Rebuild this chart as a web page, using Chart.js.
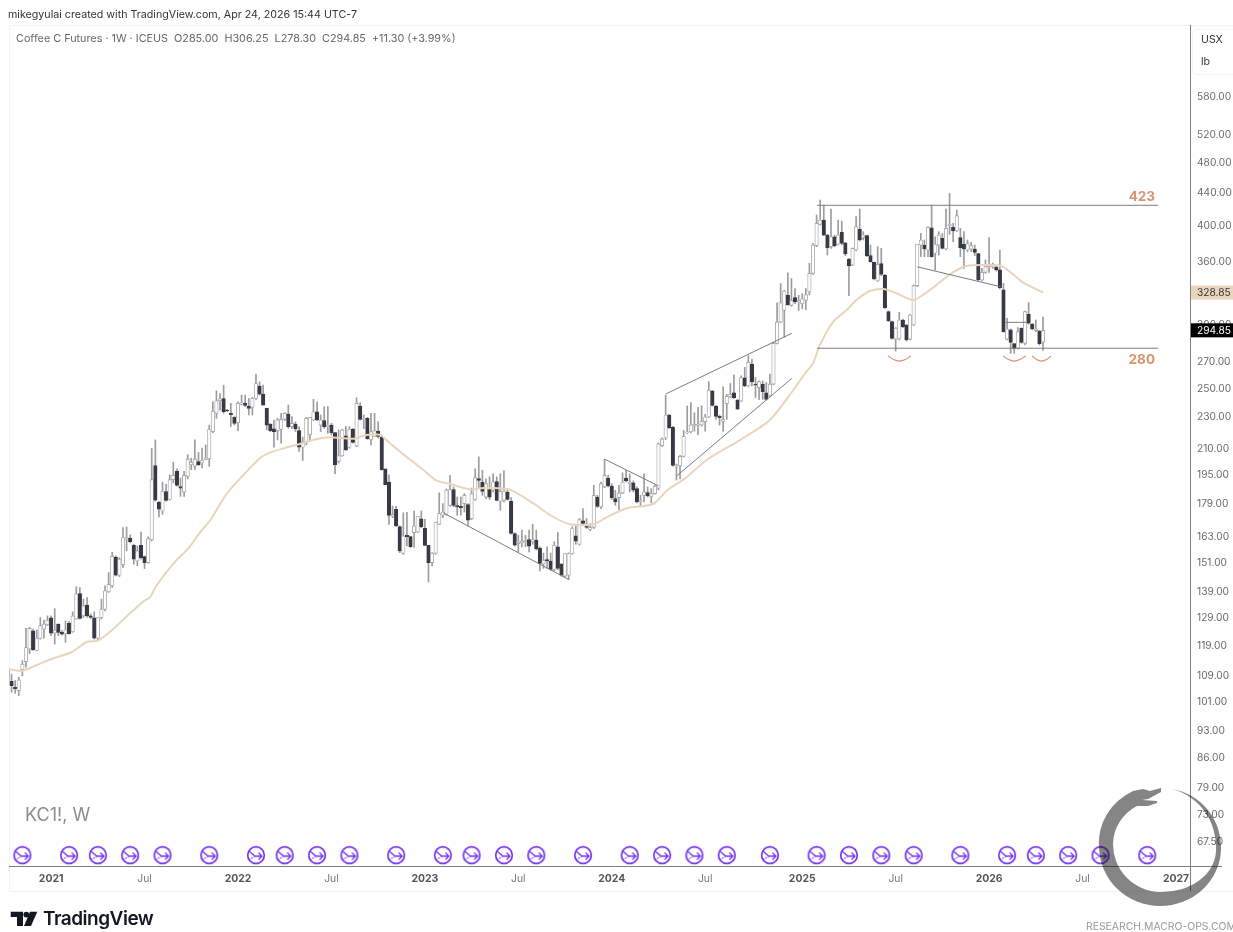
<!DOCTYPE html>
<html>
<head>
<meta charset="utf-8">
<title>Coffee C Futures</title>
<script src="https://cdn.jsdelivr.net/npm/chart.js@4/dist/chart.umd.min.js"></script>
<style>
	html, body { margin: 0; padding: 0; background: #fff; }
	#page { position: relative; width: 1233px; height: 932px; overflow: hidden; font-family: Inter, sans-serif; }
	#page canvas { position: absolute; left: 0; top: 0; }
	.txt { position: absolute; white-space: nowrap; line-height: 1; }
	#created { left: 8px; top: 10px; font-size: 10.7px; color: #333; }
	#legend { left: 16px; top: 34px; font-size: 10.8px; color: #666; }
	#usx { left: 1201px; top: 35px; font-size: 10.6px; color: #333; }
	#lb { left: 1201px; top: 57px; font-size: 10.6px; color: #333; }
	#unit-box { position: absolute; left: 1192px; top: 29px; width: 50px; height: 44px; border: 1px solid #f3f3f5; border-radius: 5px; background: #fff; }
	#symbol { left: 25px; top: 806px; font-size: 18px; color: #8a8c94; }
	#tv-name { left: 43px; top: 909px; font-size: 19px; font-weight: 600; color: #131722; letter-spacing: -0.5px; }
	#research { left: 1086px; top: 922px; font-size: 10.4px; color: #999; }
	#overlay { position: absolute; left: 0; top: 0; pointer-events: none; }
	#ring { mix-blend-mode: multiply; }
</style>
</head>
<body>
<div id="page">
	<canvas id="chart" width="1233" height="932"></canvas>
	<svg id="overlay" width="1233" height="932">
		<path d="M10.7 911.7H23V926H17V917H10.7Z" fill="#131722"/>
		<circle cx="26.3" cy="914.6" r="2.9" fill="#131722"/>
		<path d="M30 911.7H37.3L31 926H24Z" fill="#131722"/>
		<path id="ring" d="M1172 789A59 59 0 0 1 1221 850A61 58 0 0 1 1160 906A61 60 0 0 1 1099 847A62 58 0 0 1 1133 791L1143 789L1150 791L1161 788L1161 792L1148 799L1142 800L1157 801L1157 803L1148 806L1137 806A46 44 0 0 0 1113 843A48 48 0 0 0 1160 892A54 42 0 0 0 1216 850A58 60 0 0 0 1172 789Z" fill="#858585"/>
	</svg>
	<div id="unit-box"></div>
	<div class="txt" id="created">mikegyulai created with TradingView.com, Apr 24, 2026 15:44 UTC-7</div>
	<div class="txt" id="legend">Coffee C Futures · 1W · ICEUS&nbsp; O285.00&nbsp; H306.25&nbsp; L278.30&nbsp; C294.85&nbsp; +11.30 (+3.99%)</div>
	<div class="txt" id="usx">USX</div>
	<div class="txt" id="lb">lb</div>
	<div class="txt" id="symbol">KC1!, W</div>
	<div class="txt" id="tv-name">TradingView</div>
	<div class="txt" id="research">RESEARCH.MACRO-OPS.COM</div>
</div>
<script>
'use strict';

// --- Data. First bar sits half outside the pane. ---

const FIRST_WEEK = -1;

const opens = [
	107.3,107.0,105.2,104.2,110.7,113.3,117.5,123.8,117,121.2,
	124.5,126,128.6,123,126.3,123.3,122.8,126.5,123.5,128.1,
	137.9,129.3,133.4,129.3,128.6,121.2,128.7,131.8,138.6,141,
	153.2,145.4,149.9,161.6,161.9,158.5,151.5,158.5,153.4,150.8,
	161,199.5,179.5,175,185.1,180.9,191.6,196.2,187.8,184.8,
	193.4,200,199.1,201.8,201,202.9,203.5,220.1,232,240.6,
	242.2,234.2,232,229.3,225.8,238.1,238.8,237,236,242.2,
	251,245.2,235.4,224.8,221.8,220.7,221.6,228,231.5,223.3,
	225,220.7,210.4,212.9,218,227.6,233.1,224.3,227.2,223.3,
	224.3,219.4,202,205.3,217.4,210.4,221.6,211.2,237,228,
	228.7,214.9,217,220.5,216.6,197.6,190.2,172.4,175.8,167.3,
	154.9,163.1,162.5,164.4,164.7,171.1,166.5,158.5,150.8,154.9,
	168.4,172.9,173.4,177.9,186.2,177.8,177.4,178.8,178.3,171.2,
	180.9,192.2,190.3,182.2,186.2,185.8,190.5,180,180.5,184.9,
	180,164,159.3,159.6,160.1,161.2,160.1,160.9,157.3,150.1,
	152.1,151.5,147.8,157.8,150.1,145,145.4,154.8,162.9,159,
	170.1,167.7,165.9,166.9,182.2,177.1,187.6,192.5,188.1,181.4,
	181.9,184.4,192.5,189.4,189.9,186.7,179.6,183.1,184.6,182.6,
	184,186.9,211.4,216.1,230.9,222.9,199.4,199.4,204.9,219.3,
	220,223.6,224.3,224.3,226.5,229.6,247.5,237,230,226.7,
	238.6,243.3,246.1,241.1,240.4,257,251.1,267.5,252.4,249.9,
	252.4,246.1,244,252.4,284,301.9,312.3,326.2,316.9,324,
	320,318.4,321.5,329.6,347.5,376.5,400.4,405.4,388.2,375.4,
	386.3,378,391.2,379.7,362,356,371.8,395,385.3,387.5,
	365.8,358.8,340,357.4,345.9,311.2,302.3,287.5,287.5,303.8,
	299.4,287.5,299.4,335.4,377.2,377.2,371.8,396.5,368.3,377.2,
	384.5,372.9,398.8,397,392.8,385.3,378,371.8,372.9,372.9,
	367.9,341,348.5,354.3,354,354,351.2,331.3,287.5,295.2,
	283.7,279.9,296.6,284,308.8,300.3,294.6,294.3,285
];

const highs = [
	110.9,109.3,107.3,108.3,113.6,124.7,125.1,124.5,124.2,128.7,
	127.7,129.3,129.3,132,126.3,123.9,127.5,127.3,130.8,140.6,
	140.3,135.7,136.3,130,130.8,128.7,135.7,141,146.5,155.4,
	153.7,153,166.8,167.1,163.4,158.9,158.2,164.7,153.7,162.4,
	209.8,214.9,180,190.2,189,194.3,201.4,197.6,192.5,196.2,
	205.9,203.9,214.9,207.2,209.8,211.8,224.3,239.9,247.6,245.7,
	251.7,234.7,238.8,229.8,239.9,244.5,244.5,242.2,243,259.8,
	254.1,251.7,235.4,225.4,227.6,228.7,232,232.5,237.6,229.8,
	226.5,223.3,216.6,229.3,229.3,241.6,239.9,230.9,236.5,236.5,
	225.4,219.4,221.2,221.6,223.3,223.3,222.2,242.7,239.2,231,
	229.3,232,232,226.5,217.4,197.6,194.3,177.5,177.5,167.6,
	174.1,174.4,162.8,175,172.4,175,170.8,158.5,155.2,169.5,
	184.4,178.8,186.5,194,187.6,182.2,182.2,184,178.8,187,
	197.7,204.6,196.8,192.1,193.1,194.9,193.1,194.9,196.5,186.7,
	181.9,164.4,163.2,165.6,163.2,165.6,168.5,165.6,157.8,155,
	157.8,155,160.1,164.4,150.4,154.8,155.1,167.2,167.5,171.2,
	176.2,171.2,168.8,188.5,183.1,190.3,203,194,189.4,185.8,
	188.5,195.4,196.8,194.9,190.9,187.6,183.1,194.9,187.6,186.7,
	188.5,213,216.1,244.6,231.3,223.4,200.4,205.5,220.8,237,
	239.3,232.4,236,237,231.3,254.3,248,237.5,230.9,250.4,
	245.1,252.9,259.3,241.6,258.5,264.9,274,271.4,257.3,254.8,
	254.8,253.6,259.8,284.8,319.3,337.5,331,348.1,342.4,332.6,
	326.2,327.8,332.6,357.8,379,411.3,429.5,423.3,389,418.5,
	388.2,405.4,404.2,380,363,374,409.4,418.5,392,388.2,
	377.2,359,375.4,373.6,346.5,311.8,302.9,297.2,310.6,304.6,
	300,308.8,336.1,378,390,382.7,397.7,423.3,386.3,392,
	390,418.5,437.8,401.5,417.3,395.8,392,382.7,380,377.2,
	368.3,352.6,361.3,385.3,358,356,371.8,337.7,305.2,296,
	284,297.2,297,311.8,319.4,300.9,303.8,294.9,306.25
];

const lows = [
	107.3,103.7,103.4,102.7,108.8,111.5,115.9,117,117,120.9,
	121.2,125.7,122.1,119.2,122.1,122.3,119.8,122.6,123.3,128.1,
	128.1,128.7,128.7,128.3,120.9,120.7,128.1,131.2,138.3,140.3,
	145.1,144.8,148.7,156,159.7,150.1,149.4,152.3,148.2,150.5,
	160.5,180,172.1,173.3,180,180.6,189.8,188,182.6,182.6,
	192,197.2,197.2,199.5,198.2,202.9,199.1,219.4,228.7,234.2,
	232,233,223.3,224.3,220.7,237.6,236.5,230.9,230.9,241.6,
	244.5,237.6,221.2,220.1,210.4,214.9,212.9,227.2,222.2,222.2,
	220.1,207.8,202.5,211.8,214.9,227.2,227.2,220.1,222.2,219,
	218,194.9,201,204.9,208.4,209.8,212.9,210.8,227.6,222,
	215.3,211.8,217,215.9,196.8,188.9,168.4,171.6,167.3,155.2,
	154.4,158.2,157.5,157.5,164.4,166.8,158.2,142.6,149.4,154.4,
	168.4,171.7,172.9,177.4,177.1,172.9,172.9,174.5,167.5,170.7,
	180.5,186.7,183.1,181.4,180.9,184.9,180.2,175.4,179.6,180.5,
	163.7,158.1,155.5,157.8,157.8,155.5,159,156.3,147.2,148.3,
	148.3,147.5,147.2,147.8,145,144.7,143.5,154.5,159,158.6,
	168.5,166.4,165.3,166.4,176.8,176.2,187.2,187.6,180.9,177.9,
	175.7,184,190.3,184.9,184.9,179.1,177.4,179.6,182.2,179.1,
	183.7,186,210.9,215,222.1,199.2,191.4,192,204.5,218.7,
	219.3,220.4,218.2,223.6,220.4,229.1,237,228,224.3,220.4,
	228,242.8,242.3,234.7,240,250.6,250.4,251.1,242.8,241.6,
	241.6,241.1,243.5,251.9,283.5,301.3,289,316.9,316,318.4,
	312.3,313.8,312.9,326.5,346.5,375.4,399.6,387.5,366.5,373.6,
	375.4,377.2,377.2,365.8,325.9,355.3,370.7,381.5,382.7,364.8,
	358.8,341,339.3,345.3,314.2,302.3,287.5,277.7,286.7,297.2,
	285.8,286.7,298.8,334.5,364.8,364.8,364.8,364,350.9,366.5,
	372.9,371.8,389,380.8,392,364.8,352.6,370,370,365.8,
	340,340,347.5,348.5,352.6,349.9,332.3,293.2,286.7,275.8,
	275.8,279.3,284,282.6,300,295.2,293.7,282.6,278.3
];

const closes = [
	110.9,105.7,104.8,107.5,112.5,118,124.7,117.3,121.2,125.7,
	126.3,127.7,123,124.1,123.3,122.6,124.2,122.8,129.3,137.7,
	128.3,133.1,129.3,128.7,121.2,128.7,131.8,139,141.6,153.5,
	145.4,152.3,162.1,162.1,160.2,152.3,156,153,150.8,161.6,
	191.6,180.6,176,185.3,180.4,191.6,194,188.4,186.9,194,
	203.3,201.4,203.3,200,202.5,204,221.6,233.5,240.6,242,
	233.1,233.7,231.1,225.4,238.8,239.2,237.4,235.4,242.2,252.9,
	245.2,237.6,224.3,220.7,220.1,227.6,228,232,223.3,225.4,
	221.8,210.4,213.9,228.7,229.3,233.1,227.6,227.6,223.3,224.3,
	219.4,200,205.3,221.2,208.8,221.6,213.3,238.8,228,228.7,
	215.7,220.1,220.7,217,197.2,188.9,172.8,173.3,167.6,156,
	162.8,162.5,157.9,167.6,172.4,167.3,158.5,150.8,154.9,169.5,
	173.8,174.5,185.8,186.2,177.9,177.1,176.6,183.1,170.4,184,
	192.7,191.2,185.2,189.4,182.2,190.3,180.5,185.2,185.4,181,
	164,158.6,160.1,160.4,160.9,158.1,161.2,157,150.4,151.8,
	151.5,147.8,158.6,148.3,145.4,154.8,154.8,166.4,160.4,170.7,
	168.8,166.9,166.9,183.1,177.4,189.4,194,188.1,181.9,179.6,
	184.4,190.3,190.9,190.3,185.8,179.6,180.5,184.9,182.8,184,
	188,212.4,215.5,230.9,222.5,199.6,200,204.9,217.1,220,
	224.3,224.7,224.7,226.9,229.6,248,237.4,230,229.1,228,
	243.7,245.1,242.5,234.9,257.3,251.1,268.8,254.1,251.6,254.3,
	247,241.6,252.4,284,301.9,319.3,330.3,317.5,321.5,320,
	321.5,323,326.8,347.6,377.2,401.5,405.4,388.2,374.3,386.3,
	376.5,388.2,379,367.5,355,373.6,397.7,382.7,388.2,365.8,
	359.5,342,356.7,346.5,314.8,302.9,288.1,296.6,303.8,298,
	286.7,308.2,335.4,378,382.7,372.9,397,364.8,378,388.2,
	373.6,395.8,400.4,392.8,410.5,374.3,373,378.7,376.5,369.3,
	341,348.5,354.3,356.7,356.7,350.9,333.5,293.7,296,284.8,
	279.9,293.7,284.8,311.2,300.9,296,296,283.7,294.85
];

// Moving average, read at the bends of the line
const maWeeks = [
	-0.64,2.8,7,11.6,16.7,20.9,24.1,27.4,32.9,36.6,38.5,40.4,45.5,49.2,52.4,55.2,59.8,64.5,69.1,71.9,
	75.6,80.2,83.9,88.1,95.1,98.8,102.5,105.3,108.1,114.6,118.3,122,127.5,132.2,138.7,145.2,149.8,155.4,161.9,165.6,
	171.1,178.5,182.7,187.4,193.4,202.7,211,217.5,220.8,223,224.9,228.6,232.4,235.1,238.8,242.5,246.3,250.9,255.5,261.1,
	265.7,272.2,275.9,281.5,287
];
const maValues = [
	110.9,110.3,112.2,114.4,116.4,119.9,120.4,123.5,130.2,134.7,136.4,141.3,151.2,157.1,164.4,170.3,183.8,194.2,203.8,207.1,
	209.7,212.4,214.8,216.5,215.6,218,218,212.8,207.7,197,191,189.2,186.3,187.2,186,178.9,173,168.4,168.4,171.9,
	176.4,178.6,186.3,192.3,202.8,214.8,227.6,248.2,260.4,268,282.6,302.2,312.7,321.8,330.3,332.2,328.1,321.8,331.2,346.6,
	355,356,354.2,338.3,328.85
];

// Hand-drawn trend lines: [week, price, week, price]
const trendLines = [
	[224.1, 423, 319, 423],
	[224.1, 280, 319, 280],
	[182, 245.3, 217.1, 292.3],
	[185.05, 193.6, 217.1, 256.7],
	[120.1, 174.1, 154.9, 143.7],
	[164.9, 203.4, 180.05, 188.1],
	[252, 354.2, 275.2, 334.4],
	[276.4, 301.7, 282.4, 301.7]
];

// Small arcs under the three lows: week at left, middle, right
const arcWeeks = [
	[243.9, 245.4, 247.05, 248.7, 250.2],
	[275.9, 277.4, 279, 280.6, 282.2],
	[284, 285.2, 286.6, 288, 289.2]
];
const arcPrices = [273.8, 271, 269.8, 271, 273.8];

// Roll-over markers along the bottom
const rollWeeks = [3, 16, 24, 33, 42, 55, 68, 76, 85, 94, 107, 120, 128, 137, 146, 159, 172, 181, 190, 199, 211, 224, 233, 242, 251, 264, 277, 285, 294, 303, 316];
const rollPrice = 64.8;

const priceTicks = [580, 520, 480, 440, 400, 360, 300, 270, 250, 230, 210, 195, 179, 163, 151, 139, 129, 119, 109, 101, 93, 86, 79, 73, 67.5];
const timeTickWeeks = [11, 37, 63, 89, 115, 141, 167, 193, 220, 246, 272, 298, 324];
const timeTickLabels = ['2021', 'Jul', '2022', 'Jul', '2023', 'Jul', '2024', 'Jul', '2025', 'Jul', '2026', 'Jul', '2027'];

const levelLabels = [[423, '423'], [280, '280']];
const MA_LAST = 328.85;
const LAST_CLOSE = 294.85;

// --- Colors ---

const DARK = '#363a45';
const EDGE = '#a9a9a9';
const WICK = '#9c9c9c';
const MA_COLOR = '#e9d5bc';
const LINE_COLOR = '#7d7d7d';
const ARC_COLOR = '#d9916f';
const LEVEL_COLOR = '#d9936f';
const ROLL_COLOR = '#7434f0';

// --- Marker icon ---

function makeRollIcon() {
	const c = document.createElement('canvas');
	c.width = 20;
	c.height = 20;
	const g = c.getContext('2d');
	g.strokeStyle = ROLL_COLOR;
	g.lineWidth = 1.7;
	g.beginPath();
	g.arc(10, 10, 8.3, 0, Math.PI * 2);
	g.stroke();
	g.lineWidth = 1.3;
	g.beginPath();
	g.moveTo(3, 6);
	g.lineTo(9, 11);
	g.lineTo(16, 11);
	g.moveTo(12.5, 7.5);
	g.lineTo(16, 11);
	g.lineTo(12.5, 14.5);
	g.stroke();
	g.setLineDash([1.5, 1.2]);
	g.beginPath();
	g.moveTo(3, 14.5);
	g.lineTo(8.5, 11.5);
	g.stroke();
	return c;
}

// --- Datasets ---

function buildDatasets() {
	const wicks = [];
	const bodies = [];
	const fills = [];
	const edges = [];
	opens.forEach((open, i) => {
		const week = i + FIRST_WEEK;
		const up = closes[i] >= open;
		wicks.push({ x: week, y: [lows[i], highs[i]] });
		bodies.push({ x: week, y: [Math.min(open, closes[i]), Math.max(open, closes[i])] });
		fills.push(up ? '#ffffff' : DARK);
		edges.push(up ? EDGE : DARK);
	});

	const datasets = [
		{ type: 'bar', data: wicks, backgroundColor: WICK, barThickness: 1, grouped: false, order: 10 },
		{ type: 'bar', data: bodies, backgroundColor: fills, borderColor: edges, borderWidth: 0.9, borderSkipped: false, barThickness: 3.5, grouped: false, order: 9 },
		{
			type: 'line',
			data: maWeeks.map((w, i) => ({ x: w, y: maValues[i] })),
			borderColor: MA_COLOR,
			borderWidth: 2,
			pointRadius: 0,
			tension: 0.25,
			order: 5,
		},
	];

	trendLines.forEach(t => {
		datasets.push({
			type: 'line',
			data: [{ x: t[0], y: t[1] }, { x: t[2], y: t[3] }],
			borderColor: LINE_COLOR,
			borderWidth: 1,
			pointRadius: 0,
			order: 4,
		});
	});

	arcWeeks.forEach(weeks => {
		datasets.push({
			type: 'line',
			data: weeks.map((w, i) => ({ x: w, y: arcPrices[i] })),
			borderColor: ARC_COLOR,
			borderWidth: 1.1,
			pointRadius: 0,
			tension: 0.4,
			order: 3,
		});
	});

	datasets.push({
		type: 'line',
		data: rollWeeks.map(w => ({ x: w, y: rollPrice })),
		showLine: false,
		pointStyle: makeRollIcon(),
		pointRadius: 10,
		order: 1,
	});
	return datasets;
}

// --- Frame, price tags, level labels ---

const framePlugin = {
	id: 'frame',
	beforeDraw(chart) {
		const { ctx, chartArea: a } = chart;
		ctx.save();
		ctx.fillStyle = '#fff';
		ctx.fillRect(0, 0, chart.width, chart.height);
		ctx.strokeStyle = '#f2f3f5';
		ctx.lineWidth = 1;
		ctx.beginPath();
		ctx.moveTo(chart.width, a.top + 0.5);
		ctx.lineTo(a.left + 0.5, a.top + 0.5);
		ctx.lineTo(a.left + 0.5, a.bottom + 25.5);
		ctx.lineTo(chart.width, a.bottom + 25.5);
		ctx.stroke();
		ctx.restore();
	},
	afterDraw(chart) {
		const { ctx, chartArea: a, scales: { y } } = chart;
		ctx.save();
		ctx.strokeStyle = '#7f7f7f';
		ctx.lineWidth = 1;
		ctx.beginPath();
		ctx.moveTo(a.left, a.bottom + 0.5);
		ctx.lineTo(1222, a.bottom + 0.5);
		ctx.moveTo(a.right + 0.5, a.top);
		ctx.lineTo(a.right + 0.5, a.bottom + 25);
		ctx.stroke();

		ctx.textBaseline = 'middle';
		ctx.textAlign = 'left';
		ctx.font = '10.2px Inter, sans-serif';
		[[MA_LAST, MA_COLOR, '#333333'], [LAST_CLOSE, '#000000', '#ffffff']].forEach(tag => {
			const py = y.getPixelForValue(tag[0]);
			ctx.fillStyle = tag[1];
			ctx.fillRect(a.right + 1, py - 7, chart.width - a.right - 1, 14);
			ctx.fillStyle = tag[2];
			ctx.fillText(tag[0].toFixed(2), a.right + 7, py + 0.5);
		});

		ctx.textAlign = 'right';
		ctx.font = '700 13.5px Inter, sans-serif';
		ctx.fillStyle = LEVEL_COLOR;
		levelLabels.forEach(l => {
			const offset = l[0] === 423 ? -8.5 : 12;
			ctx.fillText(l[1], 1155, y.getPixelForValue(l[0]) + offset);
		});
		ctx.restore();
	},
};

// --- Chart ---

function init() {
	Chart.defaults.font.family = "Inter, sans-serif";

	new Chart(document.getElementById('chart'), {
		type: 'bar',
		data: { datasets: buildDatasets() },
		plugins: [framePlugin],
		options: {
			responsive: false,
			animation: false,
			events: [],
			layout: { autoPadding: false, padding: { left: 9, top: 25, right: 0, bottom: 41 } },
			plugins: {
				legend: { display: false },
				tooltip: { enabled: false },
			},
			scales: {
				x: {
					type: 'linear',
					offset: false,
					min: -0.72,
					max: 327.9,
					grid: { display: false, offset: false, drawTicks: false },
					border: { display: false },
					afterBuildTicks(scale) {
						scale.ticks = timeTickWeeks.map(value => ({ value }));
					},
					afterFit(scale) {
						scale.height = 25;
						scale.paddingLeft = 0;
						scale.paddingRight = 0;
					},
					ticks: {
						autoSkip: false,
						maxRotation: 0,
						padding: 7,
						color: ctx => (String(timeTickLabels[ctx.index]).length === 4 ? '#555555' : '#777777'),
						font: ctx => (String(timeTickLabels[ctx.index]).length === 4
							? { size: 10.4, weight: '700' }
							: { size: 10.3, weight: '400' }),
						callback: (value, index) => timeTickLabels[index],
					},
				},
				y: {
					type: 'logarithmic',
					position: 'right',
					bounds: 'data',
					min: 62.8,
					max: 711.9,
					grid: { display: false, drawTicks: false },
					border: { display: false },
					afterBuildTicks(scale) {
						scale.ticks = priceTicks.map(value => ({ value }));
					},
					afterFit(scale) {
						scale.width = 43;
					},
					ticks: {
						autoSkip: false,
						padding: 7,
						labelOffset: 1,
						color: '#6a6a6a',
						font: { size: 10.2 },
						callback: value => Number(value).toFixed(2),
					},
				},
			},
		},
	});
}

init();
</script>
</body>
</html>
